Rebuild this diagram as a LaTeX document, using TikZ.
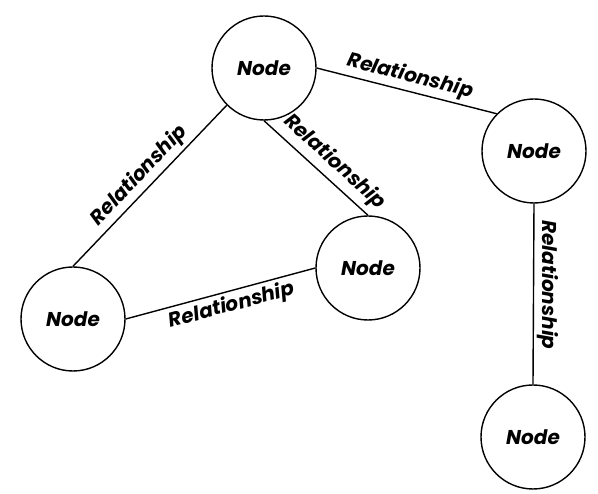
\documentclass[tikz,border=0pt]{standalone}
\usepackage{fontspec}
\setmainfont{Poppins}
\begin{document}
\begin{tikzpicture}[x=1pt,y=-1pt,
    entity/.style={circle,draw,line width=1.4pt,minimum size=104pt,inner sep=0pt,
      font=\fontsize{20}{20}\selectfont\bfseries\itshape},
    rel/.style={line width=1.4pt},
    rellabel/.style={sloped,midway,font=\fontsize{20}{20}\selectfont\bfseries\itshape}]
    \useasboundingbox (0,0) rectangle (598,494);
    \node[entity] (top) at (264,68) {Node};
    \node[entity] (right) at (534,151) {Node};
    \node[entity] (mid) at (368,268) {Node};
    \node[entity] (left) at (73,319) {Node};
    \node[entity] (bottom) at (533,437) {Node};
    \draw[rel] (top.east) -- (right.north west) node[rellabel,above] {Relationship};
    \draw[rel] (left.north) -- (top.south west) node[rellabel,above] {Relationship};
    \draw[rel] (top.south) -- (mid.north) node[rellabel,above=2pt,pos=0.57] {Relationship};
    \draw[rel] (left.east) -- (mid.west) node[rellabel,below,pos=0.54] {Relationship};
    \draw[rel] (right.south) -- (bottom.north) node[midway,pos=0.45,rotate=-90,anchor=south,
      font=\fontsize{20}{20}\selectfont\bfseries\itshape] {Relationship};
\end{tikzpicture}
\end{document}
